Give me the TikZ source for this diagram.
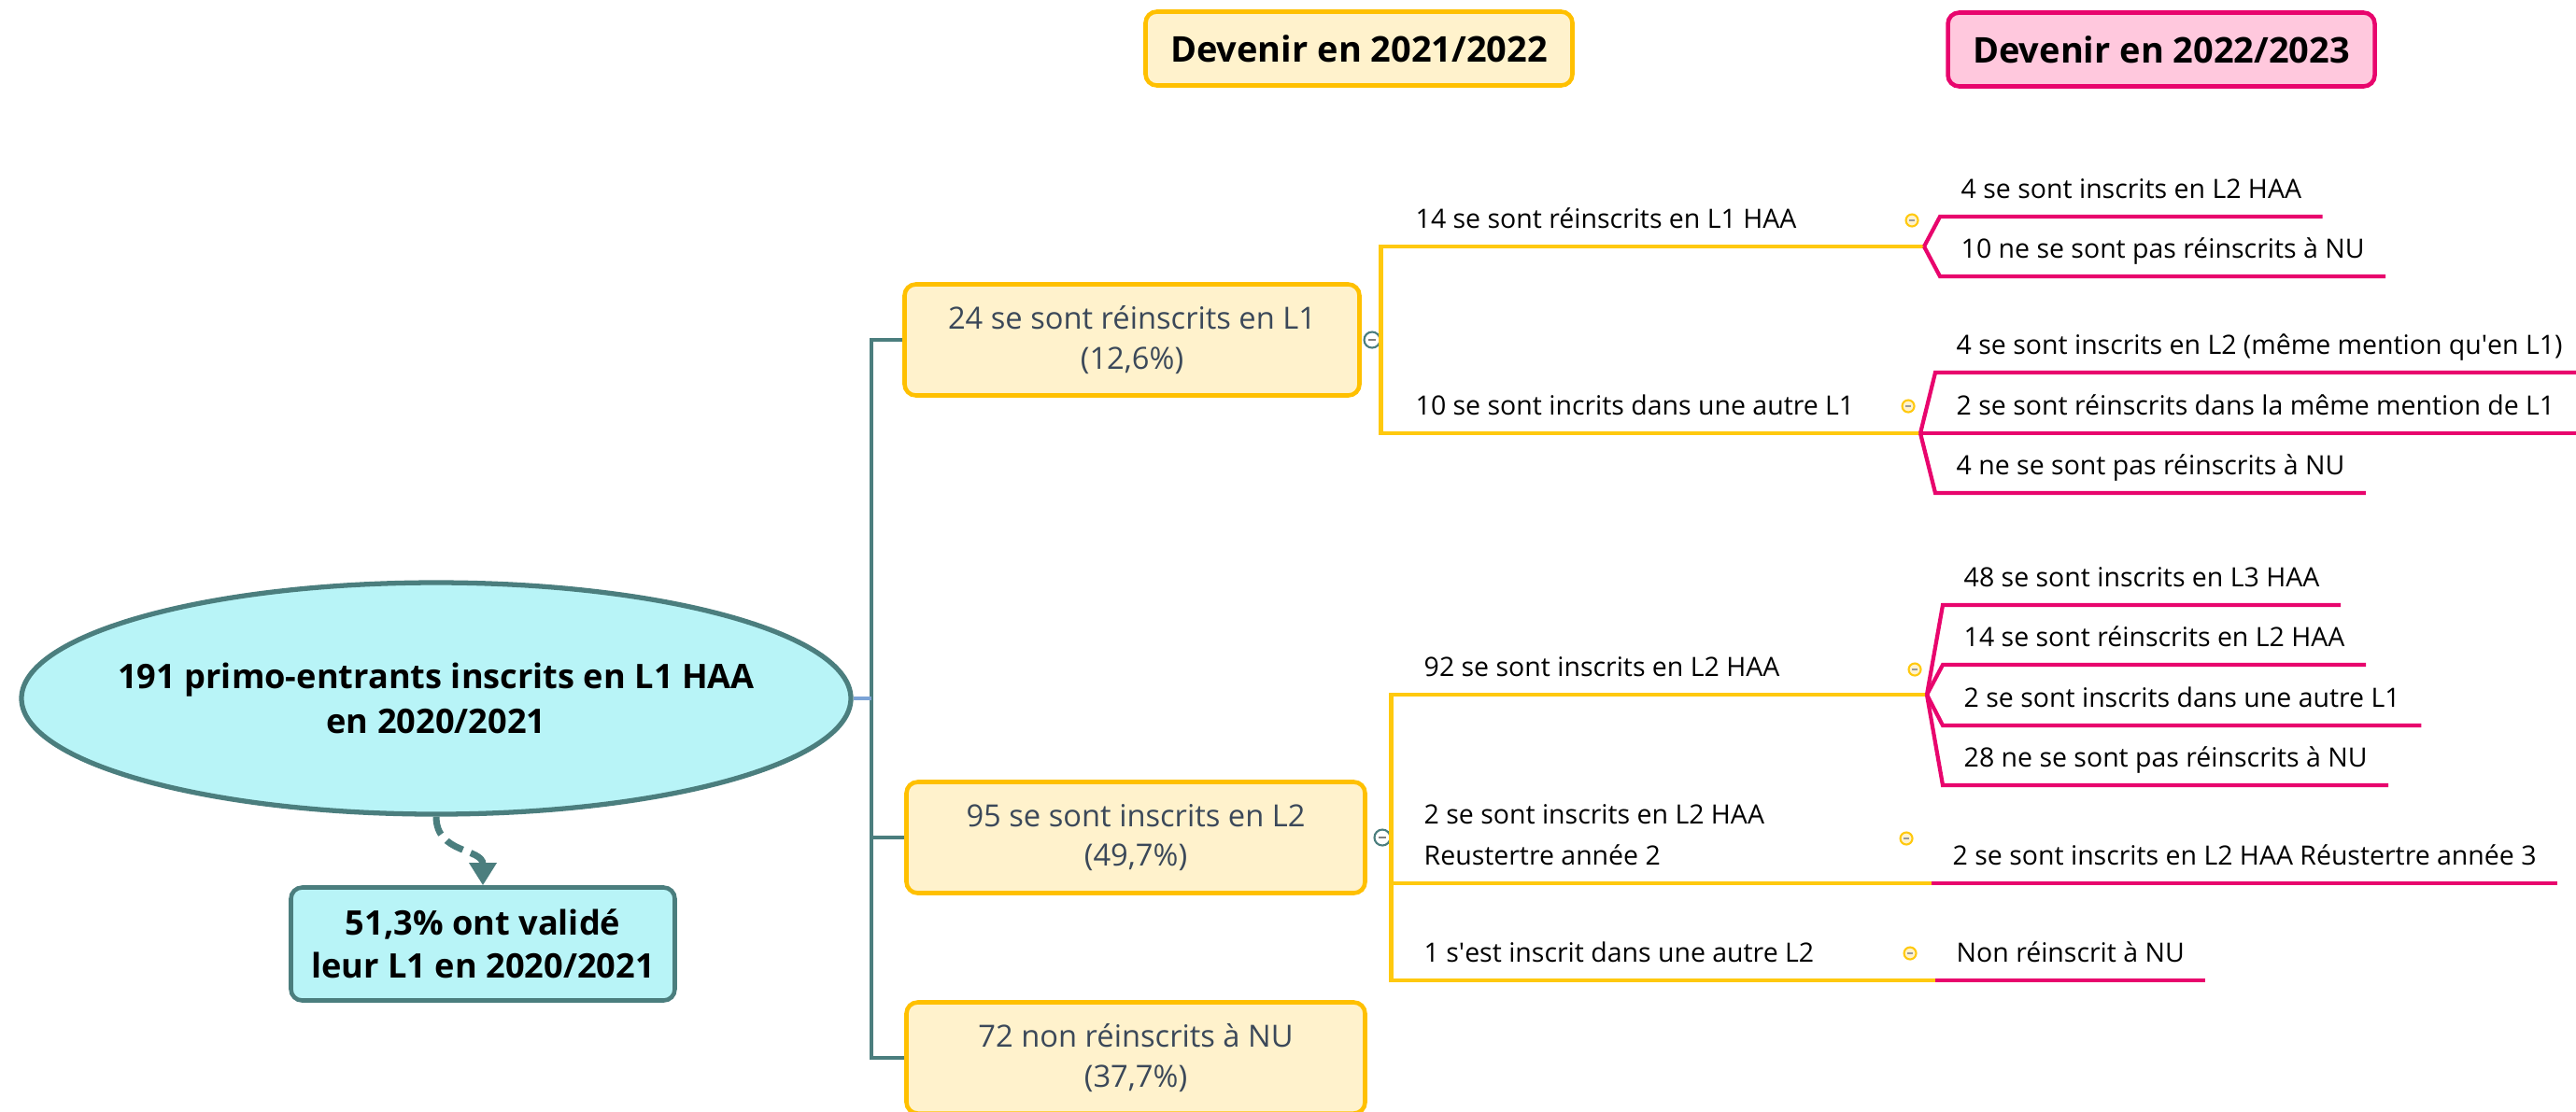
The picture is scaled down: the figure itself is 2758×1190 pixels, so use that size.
\documentclass[tikz,border=0pt]{standalone}
\usepackage{fontspec}
\setmainfont{Open Sans}
\usetikzlibrary{shapes.geometric,arrows.meta}

\definecolor{gold}{HTML}{FFC90E}
\definecolor{goldbox}{HTML}{FFC000}
\definecolor{crimson}{HTML}{E8056D}
\definecolor{tealc}{HTML}{4B7E7E}
\definecolor{cyanfill}{HTML}{B8F4F7}
\definecolor{creamfill}{HTML}{FFF2CC}
\definecolor{pinkfill}{HTML}{FFC8DD}
\definecolor{boxtext}{HTML}{3B4859}
\definecolor{stubblue}{HTML}{7BA3D6}

\tikzset{
  boldtxt/.style={font=\bfseries\fontsize{10.3}{13.6}\selectfont},
  plaintxt/.style={font=\fontsize{8.1}{12.5}\selectfont},
  rootnode/.style={ellipse, draw=tealc, line width=1.5pt, fill=cyanfill,
    minimum width=8.88cm, minimum height=2.48cm, inner sep=0pt},
  validbox/.style={rectangle, rounded corners=1.2mm, draw=tealc, line width=1.3pt,
    fill=cyanfill, minimum width=4.11cm, minimum height=1.21cm, align=center,
    font=\bfseries\fontsize{10.3}{13}\selectfont},
  yearbox/.style={rectangle, rounded corners=1.2mm, draw=goldbox, line width=1.3pt,
    fill=creamfill, minimum width=4.87cm, minimum height=1.19cm, align=center,
    text=boxtext, font=\fontsize{9.3}{12}\selectfont},
  headbox/.style={rectangle, rounded corners=1.2mm, line width=1.3pt,
    minimum width=4.57cm, minimum height=0.79cm, font=\bfseries\fontsize{10.8}{13}\selectfont},
  branchlbl/.style={anchor=south west, inner xsep=0pt, inner ysep=1.85mm,
    text depth=0pt, align=left, plaintxt},
  leaf/.style={anchor=south west, inner xsep=2.2mm, inner ysep=1.85mm,
    text depth=0pt, plaintxt},
  tline/.style={draw=tealc, line width=1.4pt},
  yline/.style={draw=gold, line width=1.2pt},
  pline/.style={draw=crimson, line width=1.2pt},
  dashline/.style={draw=tealc, line width=2pt, dash pattern=on 2mm off 0.9mm,
    -{Triangle[width=2.8mm,length=2.4mm]}},
  yicon/.style={circle, draw=gold, fill=creamfill, line width=0.6pt,
    minimum size=1.3mm, inner sep=0pt},
  ticon/.style={circle, draw=tealc, fill=white, line width=0.6pt,
    minimum size=1.7mm, inner sep=0pt}
}

\begin{document}
\begin{tikzpicture}[x=0.1mm,y=-0.1mm]
\useasboundingbox (0,0) rectangle (2758,1190);

% headers
\node[headbox, draw=goldbox, fill=creamfill] (h1) at (1455,52) {Devenir en 2021/2022};
\node[headbox, draw=crimson, fill=pinkfill] (h2) at (2314,53) {Devenir en 2022/2023};

\node[rootnode] (root) at (467,748) {};
\node[boldtxt, align=center] (roottxt) at (root.center) {191 primo-entrants inscrits en L1 HAA\\en 2020/2021};
\node[validbox] (valid) at (517,1011) {51,3\% ont validé\\leur L1 en 2020/2021};
\draw[dashline] (root.south) .. controls +(0,40) and +(0,-40) .. (valid.north);

\node[yearbox] (b1) at (1212,364) {24 se sont réinscrits en L1\\(12,6\%)};
\node[yearbox, minimum width=4.91cm] (b2) at (1216,897) {95 se sont inscrits en L2\\(49,7\%)};
\node[yearbox, minimum width=4.91cm] (b3) at (1216,1133) {72 non réinscrits à NU\\(37,7\%)};

\coordinate (tk) at (933,748);
\draw[tline] (b1.west) -| (tk) |- (b3.west);
\draw[tline] (tk |- b2.west) -- (b2.west);
\draw[draw=stubblue, line width=1.2pt] (root.east) -- (tk);

\node[ticon] (t1) at (1469,364) {};
\node[ticon] (t2) at (1480,897) {};
\foreach \t in {t1,t2}
  \draw[gray, line width=0.4pt] ([xshift=-0.4mm]\t.center) -- ([xshift=0.4mm]\t.center);

% 2021/2022 branches
\coordinate (p1a) at (2060,264);
\coordinate (p1b) at (2056,464);
\coordinate (p2a) at (2063,744);
\coordinate (p2b) at (2068,946);
\coordinate (p2c) at (2072,1050);

\node[branchlbl] (l1a) at (1515,264) {14 se sont réinscrits en L1 HAA};
\node[branchlbl] (l1b) at (1515,464) {10 se sont incrits dans une autre L1};
\node[branchlbl] (l2a) at (1524,744) {92 se sont inscrits en L2 HAA};
\node[branchlbl] (l2b) at (1524,946) {2 se sont inscrits en L2 HAA\\Reustertre année 2};
\node[branchlbl] (l2c) at (1524,1050) {1 s\textquotesingle est inscrit dans une autre L2};

\draw[yline] (p1a) -| (t1.east) |- (p1b);
\draw[yline] (p2a) -| (t2.east) |- (p2c);
\draw[yline] (t2.east |- p2b) -- (p2b);

\node[yicon] (y1a) at (2047,236) {};
\node[yicon] (y1b) at (2043,435) {};
\node[yicon] (y2a) at (2050,717) {};
\node[yicon] (y2b) at (2041,898) {};
\node[yicon] (y2c) at (2045,1021) {};
\foreach \y in {y1a,y1b,y2a,y2b,y2c}
  \draw[gray!80, line width=0.4pt] ([xshift=-0.3mm]\y.center) -- ([xshift=0.3mm]\y.center);

% 2022/2023 leaves
\node[leaf] (c1a1) at (2077,232) {4 se sont inscrits en L2 HAA};
\node[leaf] (c1a2) at (2077,296) {10 ne se sont pas réinscrits à NU};
\node[leaf] (c1b1) at (2072,399) {4 se sont inscrits en L2 (même mention qu\textquotesingle en L1)};
\node[leaf] (c1b2) at (2072,464) {2 se sont réinscrits dans la même mention de L1};
\node[leaf] (c1b3) at (2072,528) {4 ne se sont pas réinscrits à NU};
\node[leaf] (c2a1) at (2080,648) {48 se sont inscrits en L3 HAA};
\node[leaf] (c2a2) at (2080,712) {14 se sont réinscrits en L2 HAA};
\node[leaf] (c2a3) at (2080,777) {2 se sont inscrits dans une autre L1};
\node[leaf] (c2a4) at (2080,841) {28 ne se sont pas réinscrits à NU};
\node[leaf] (c2b1) at (2068,946) {2 se sont inscrits en L2 HAA Réustertre année 3};
\node[leaf] (c2c1) at (2072,1050) {Non réinscrit à NU};

\foreach \p/\c in {p1a/c1a1,p1a/c1a2,p1b/c1b1,p1b/c1b2,p1b/c1b3,
                   p2a/c2a1,p2a/c2a2,p2a/c2a3,p2a/c2a4,p2b/c2b1,p2c/c2c1}
  \draw[pline] (\p) -- (\c.south west) -- (\c.south east);
\end{tikzpicture}
\end{document}
